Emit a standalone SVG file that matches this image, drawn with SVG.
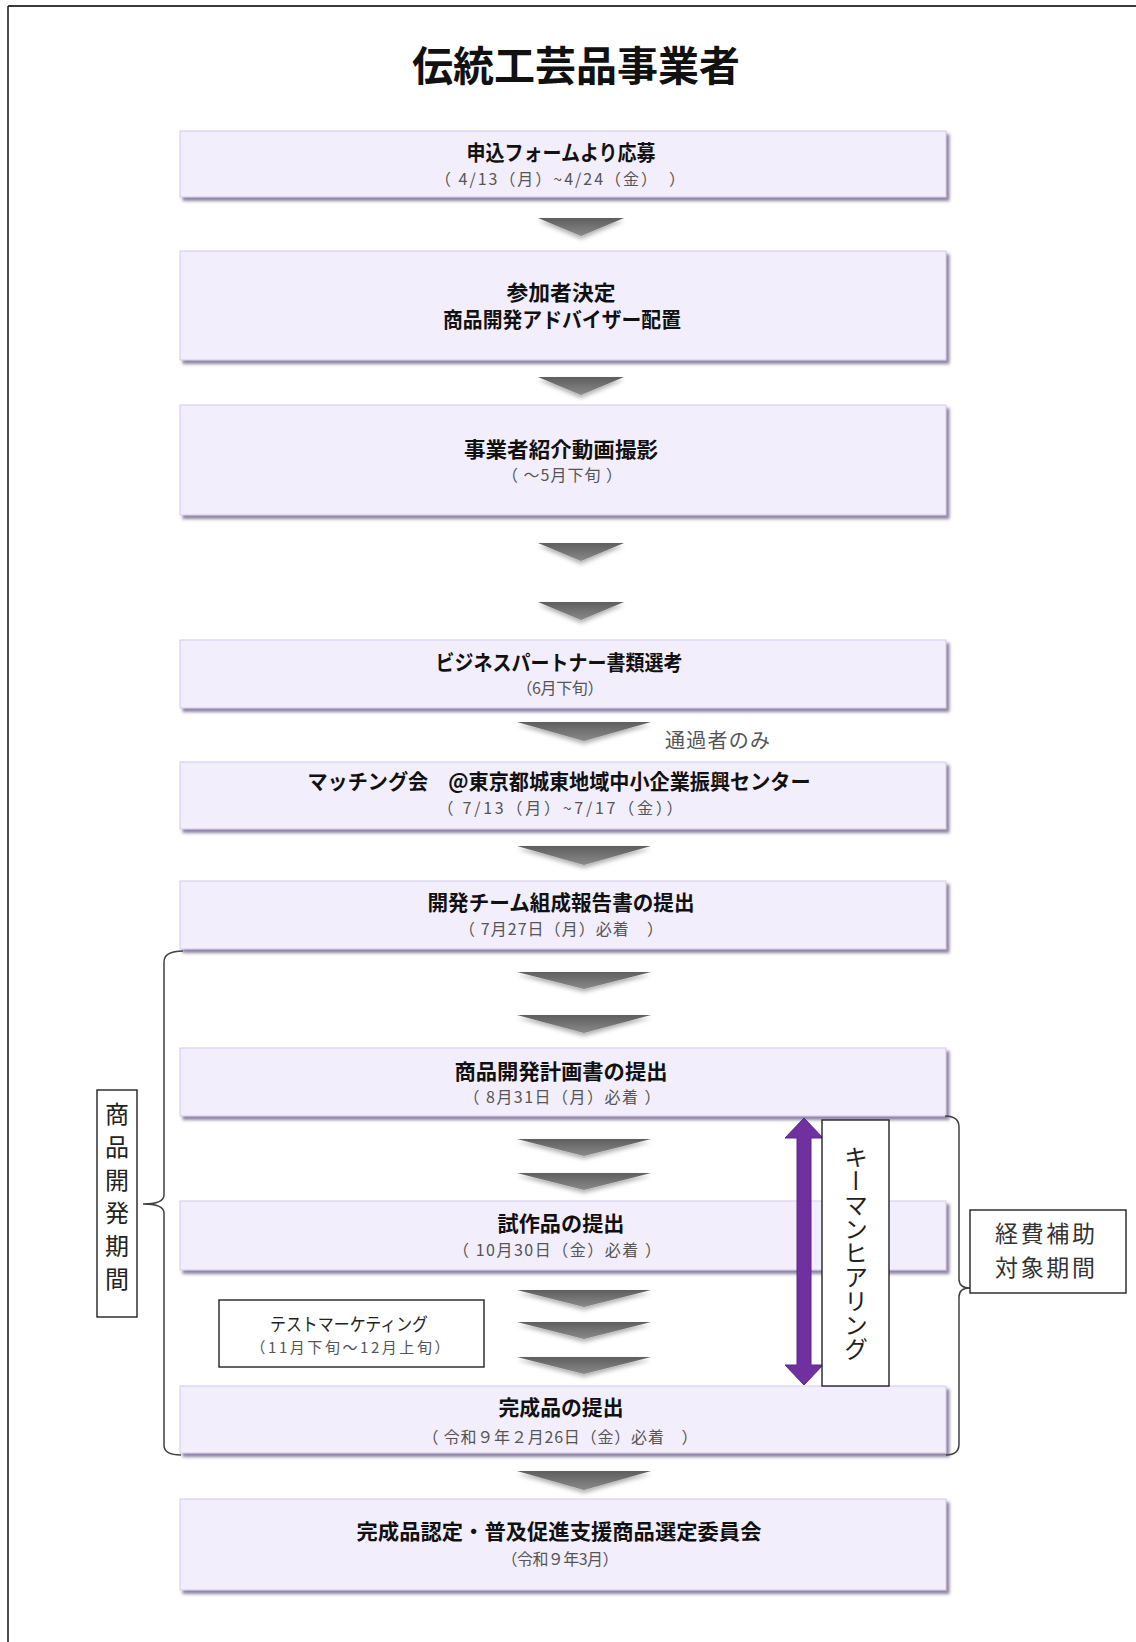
<svg xmlns="http://www.w3.org/2000/svg" width="1136" height="1642" viewBox="0 0 1136 1642">
<style>
text{font-family:"Noto Sans CJK JP","Noto Sans",sans-serif;}
.main{font-size:21px;font-weight:bold;fill:#111;text-anchor:middle;}
.sub{font-size:16px;fill:#555;text-anchor:middle;}
.box{fill:#f3eefc;stroke:#d3c9ee;stroke-width:1;filter:url(#sh);}
.arr{fill:url(#ag);filter:url(#ash);}
.brace{fill:none;stroke:#404040;stroke-width:1.5;}
.lbl{fill:#fff;stroke:#222;stroke-width:1.4;}
.vt{writing-mode:vertical-rl;font-size:24px;fill:#222;}
</style>
<defs>
<filter id="sh" x="-5%" y="-20%" width="110%" height="150%">
<feDropShadow dx="3" dy="3.5" stdDeviation="1.8" flood-color="#6e6488" flood-opacity="0.8"/>
</filter>
<filter id="ash" x="-20%" y="-30%" width="140%" height="190%">
<feDropShadow dx="0" dy="3" stdDeviation="2" flood-color="#000" flood-opacity="0.3"/>
</filter>
<linearGradient id="ag" x1="0" y1="0" x2="0" y2="1">
<stop offset="0" stop-color="#5e5e5e"/>
<stop offset="1" stop-color="#8a8a8a"/>
</linearGradient>
</defs>
<rect x="0" y="0" width="1136" height="1642" fill="#fff"/>
<g id="frame">
<line x1="8" y1="6" x2="1136" y2="6" stroke="#3a3a3a" stroke-width="2.2"/>
<line x1="8" y1="6" x2="8" y2="1642" stroke="#222" stroke-width="1.6"/>
</g>
<g id="title">
<text x="576" y="81" font-size="41" font-weight="bold" text-anchor="middle" fill="#111">伝統工芸品事業者</text>
</g>
<g id="n1">
<rect class="box" x="180" y="131" width="766" height="66"/>
<text class="main" x="561" y="160" textLength="189" lengthAdjust="spacingAndGlyphs">申込フォームより応募</text>
<text class="sub" x="560" y="185" textLength="250">（ 4/13（月）~4/24（金）　）</text>
</g>
<g id="n2">
<rect class="box" x="180" y="251" width="766" height="109"/>
<text class="main" x="561" y="300" textLength="109" lengthAdjust="spacingAndGlyphs">参加者決定</text>
<text class="main" x="562" y="327" textLength="238" lengthAdjust="spacingAndGlyphs">商品開発アドバイザー配置</text>
</g>
<g id="n3">
<rect class="box" x="180" y="405" width="766" height="110"/>
<text class="main" x="561" y="457" textLength="194" lengthAdjust="spacingAndGlyphs">事業者紹介動画撮影</text>
<text class="sub" x="562" y="481" textLength="120">（ ～5月下旬 ）</text>
</g>
<g id="n4">
<rect class="box" x="180" y="640" width="766" height="68"/>
<text class="main" x="559" y="670" textLength="247" lengthAdjust="spacingAndGlyphs">ビジネスパートナー書類選考</text>
<text class="sub" x="560" y="694" textLength="87">（6月下旬）</text>
</g>
<g id="note-pass">
<text x="665" y="748" font-size="20" fill="#555" textLength="105">通過者のみ</text>
</g>
<g id="n5">
<rect class="box" x="180" y="762" width="766" height="67"/>
<text class="main" x="559" y="789" textLength="503" lengthAdjust="spacingAndGlyphs">マッチング会　@東京都城東地域中小企業振興センター</text>
<text class="sub" x="560" y="814" textLength="245">（ 7/13（月）~7/17（金））</text>
</g>
<g id="n6">
<rect class="box" x="180" y="881" width="766" height="68"/>
<text class="main" x="561" y="910" textLength="267" lengthAdjust="spacingAndGlyphs">開発チーム組成報告書の提出</text>
<text class="sub" x="561" y="935" textLength="204">（ 7月27日（月）必着　）</text>
</g>
<g id="n7">
<rect class="box" x="180" y="1048" width="766" height="68"/>
<text class="main" x="561" y="1079" textLength="213" lengthAdjust="spacingAndGlyphs">商品開発計画書の提出</text>
<text class="sub" x="562" y="1103" textLength="197">（ 8月31日（月）必着 ）</text>
</g>
<g id="n8">
<rect class="box" x="180" y="1201" width="766" height="69"/>
<text class="main" x="561" y="1231" textLength="127" lengthAdjust="spacingAndGlyphs">試作品の提出</text>
<text class="sub" x="557" y="1256" textLength="208">（ 10月30日（金）必着 ）</text>
</g>
<g id="n9">
<rect class="box" x="180" y="1386" width="766" height="67"/>
<text class="main" x="561" y="1415" textLength="125" lengthAdjust="spacingAndGlyphs">完成品の提出</text>
<text class="sub" x="560" y="1443" textLength="275">（ 令和９年２月26日（金）必着　）</text>
</g>
<g id="n10">
<rect class="box" x="180" y="1499" width="766" height="91"/>
<text class="main" x="559" y="1539" textLength="405" lengthAdjust="spacingAndGlyphs">完成品認定・普及促進支援商品選定委員会</text>
<text class="sub" x="560" y="1565" textLength="117">（令和９年3月）</text>
</g>
<g id="connectors">
<polygon class="arr" points="538,218 624,218 581,236"/>
<polygon class="arr" points="538,377 624,377 581,395"/>
<polygon class="arr" points="538,543 624,543 581,561"/>
<polygon class="arr" points="538,602 624,602 581,620"/>
<polygon class="arr" points="517,722 651,722 584,741"/>
<polygon class="arr" points="517,846 651,846 584,865"/>
<polygon class="arr" points="517,972 651,972 584,989"/>
<polygon class="arr" points="517,1015 651,1015 584,1033"/>
<polygon class="arr" points="517,1139 651,1139 584,1156"/>
<polygon class="arr" points="517,1173 651,1173 584,1190"/>
<polygon class="arr" points="517,1290 651,1290 584,1307"/>
<polygon class="arr" points="517,1322 651,1322 584,1339"/>
<polygon class="arr" points="517,1357 651,1357 584,1374"/>
<polygon class="arr" points="517,1471 651,1471 584,1490"/>
<path class="brace" d="M183,951 Q164,951 164,962 L164,1195 Q164,1204 143,1204 Q164,1204 164,1213 L164,1445 Q164,1455 181,1455"/>
<path class="brace" d="M945,1116 Q959,1116 959,1127 L959,1279 Q959,1288 970,1288 Q959,1288 959,1297 L959,1444 Q959,1455 946,1455"/>
<polygon points="804,1118 823,1138 811,1138 811,1365 823,1365 804,1385 785,1365 797,1365 797,1138 785,1138" fill="#7030a0" stroke="#5b2688" stroke-width="1"/>
</g>
<g id="test-marketing">
<rect class="lbl" x="219" y="1300" width="265" height="67"/>
<text x="349" y="1331" font-size="18" fill="#222" text-anchor="middle" textLength="158" lengthAdjust="spacingAndGlyphs">テストマーケティング</text>
<text x="350" y="1353" font-size="15" fill="#555" text-anchor="middle" textLength="199">（11月下旬～12月上旬）</text>
</g>
<g id="dev-period">
<rect class="lbl" x="97" y="1090" width="40" height="227"/>
<text class="vt" x="117" y="1102" letter-spacing="9">商品開発期間</text>
</g>
<g id="keyman">
<rect class="lbl" x="822" y="1120" width="67" height="266"/>
<text class="vt" x="856" y="1253" text-anchor="middle">キーマンヒアリング</text>
</g>
<g id="subsidy">
<rect class="lbl" x="970" y="1210" width="156" height="83"/>
<text x="1045" y="1242" font-size="23" fill="#333" text-anchor="middle" textLength="100">経費補助</text>
<text x="1045" y="1276" font-size="23" fill="#333" text-anchor="middle" textLength="100">対象期間</text>
</g>
</svg>
